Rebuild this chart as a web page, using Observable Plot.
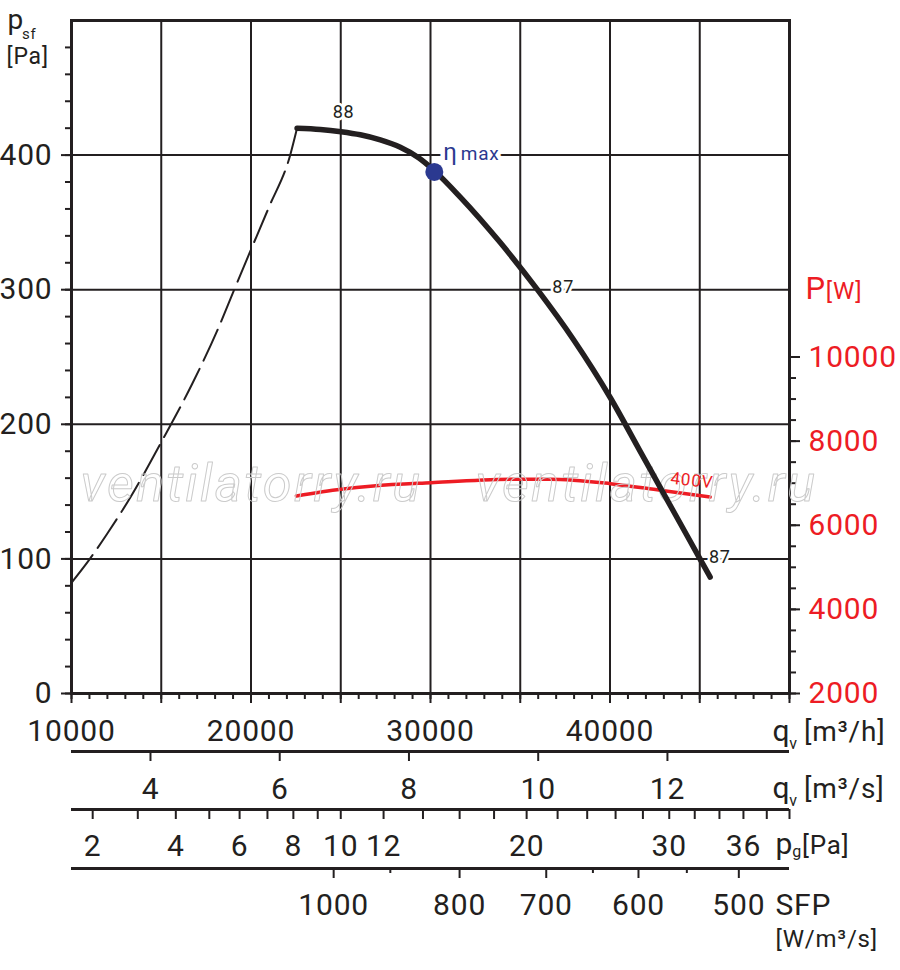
<!DOCTYPE html>
<html><head><meta charset="utf-8">
<script src="https://cdn.jsdelivr.net/npm/d3@7"></script>
<script src="https://cdn.jsdelivr.net/npm/@observablehq/plot@0.6"></script>
<style>
html,body{margin:0;padding:0;background:#fff;}
svg text{letter-spacing:0.8px;}
</style></head><body>
<div id="chart"></div>
<script>
// ---------- data ----------
// main fan curve: airflow q [m3/h] vs static pressure psf [Pa]
const qCurve   = [22567, 23864, 25017, 26091, 27205, 28318, 29337, 30212, 31659, 33886, 35947, 37951, 40011, 41682, 42795, 43909, 44927, 45579];
const psfCurve = [420.0, 419.1, 417.4, 415.1, 411.3, 405.8, 398.0, 388.4, 368.8, 335.0, 300.2, 263.2, 219.9, 179.9, 153.2, 126.5, 102.1, 86.5];
// unstable (dashed) region
const qStall   = [10030, 10963, 11988, 13285, 15050, 16720, 18112, 19037, 19967, 20986, 22194, 22567];
const psfStall = [82.8, 98.9, 118.7, 145.8, 187.9, 229.9, 269.4, 299.1, 328.8, 360.9, 400.5, 420.0];
// power input P [W] at 400 V
const qPower   = [22528, 25017, 26815, 30028, 35000, 36670, 40011, 42795, 45579];
const powerW   = [6697, 6856, 6935, 7013, 7094, 7094, 6989, 6833, 6673];
// max efficiency point
const etaMaxQ = 30212, etaMaxPsf = 387.5;
// efficiency labels on the curve
const effText = ["88", "87", "87"];
const effQ    = [25156, 37394, 46119];
const effPsf  = [427.6, 297.9, 97.2];
// 400V label
const voltText = "400V", voltQ = 44560, voltP = 7062;

// axes
const psfTicks    = [0, 100, 200, 300, 400];
const qTickLabels = [10000, 20000, 30000, 40000];
const powerTicks  = [2000, 4000, 6000, 8000, 10000];
const qsTicks     = [4, 6, 8, 10, 12];                       // m3/s
const pgTicks     = [2,3,4,5,6,7,8,9,10,12,14,16,18,20,22,24,26,28,30,32,34,36,38,40];
const pgLabels    = [2, 4, 6, 8, 10, 12, 20, 30, 36];
const sfpTicks    = [1000, 900, 800, 700, 650, 600, 550, 500];
const sfpTickQ    = [24605, 27762, 31620, 36448, 39048, 41587, 44281, 47177];
const sfpLabels   = [1000, 800, 700, 600, 500];

// ---------- helpers ----------
const P0 = 2000, W_PER_PA = 32;                 // right axis: P = P0 + psf*32
const pToY = P => (P - P0) / W_PER_PA;
const qFromPg = pg => 50000 * Math.sqrt(pg / 40); // dynamic pressure ~ q^2
const ink = "#231f20", red = "#ed1c24", blue = "#2b3990";
const FONT = "Roboto, 'Noto Sans', sans-serif";

const curve = qCurve.map((q, i) => ({q, psf: psfCurve[i]}));
const stall = qStall.map((q, i) => ({q, psf: psfStall[i]}));
const power = qPower.map((q, i) => ({q, P: powerW[i]}));
const eff = effText.map((t, i) => ({t, q: effQ[i], psf: effPsf[i]}));
const sfp = sfpTicks.map((s, i) => ({s, q: sfpTickQ[i]}));
const eta = [{q: etaMaxQ, psf: etaMaxPsf}];

// rich text (sub/superscript runs) -> rebuilt as tspans after rendering
// part = [text, fontSize, baselineOffset, dx]
const richMap = new Map();
function R(parts, opts) {
  const s = parts.map(p => p[0]).join("");
  richMap.set(s, parts);
  return Plot.text([s], {text: d => d, textAnchor: "start", lineAnchor: "bottom", fill: ink, fontSize: parts[0][1], ...opts});
}
const T = (str, frameAnchor, dx, dy, fontSize, extra = {}) =>
  Plot.text([str], {text: d => d, frameAnchor, dx, dy, fontSize, textAnchor: "start", lineAnchor: "bottom", fill: ink, ...extra});

const chart = Plot.plot({
  width: 900, height: 970,
  marginLeft: 71, marginRight: 111, marginTop: 20, marginBottom: 277,
  x: {type: "linear", domain: [10000, 50000], label: null},
  y: {type: "linear", domain: [0, 500], label: null},
  style: {fontFamily: FONT, color: ink, background: "#fff", overflow: "visible"},
  marks: [
    // grid + frame
    Plot.gridX({ticks: d3.range(15000, 50000, 5000), stroke: ink, strokeOpacity: 1, strokeWidth: 2}),
    Plot.gridY({ticks: psfTicks.filter(d => d > 0), stroke: ink, strokeOpacity: 1, strokeWidth: 2}),
    Plot.frame({stroke: ink, strokeWidth: 3}),

    // left axis
    Plot.axisY({ticks: d3.range(0, 481, 20), tickSize: 6, strokeWidth: 2, tickFormat: () => "", label: null}),
    Plot.axisY({ticks: psfTicks, tickSize: 10, tickPadding: 9, strokeWidth: 2, fontSize: 30, tickFormat: d => String(d), label: null}),

    // right axis (power)
    Plot.axisY({anchor: "right", ticks: d3.range(2000, 10001, 500).map(pToY), tickSize: 6, strokeWidth: 2, tickFormat: () => "", label: null}),
    Plot.axisY({anchor: "right", ticks: powerTicks.map(pToY), tickSize: 10, strokeWidth: 2, tickFormat: () => "", label: null}),
    Plot.axisY({anchor: "right", ticks: powerTicks.map(pToY), tickSize: 0, tickPadding: 19, fontSize: 30, color: red,
      tickFormat: y => String(Math.round(y * W_PER_PA + P0)), label: null}),

    // bottom axis q [m3/h]
    Plot.axisX({ticks: d3.range(10000, 50001, 1000), tickSize: 6, strokeWidth: 2, tickFormat: () => "", label: null}),
    Plot.axisX({ticks: d3.range(10000, 50001, 5000), tickSize: 10, strokeWidth: 2, tickFormat: () => "", label: null}),
    Plot.axisX({ticks: qTickLabels, tickSize: 0, tickPadding: 26, fontSize: 30, tickFormat: d => String(d), label: null}),

    // q [m3/s] axis
    Plot.ruleY([0], {dy: 58, stroke: ink, strokeWidth: 3}),
    Plot.ruleX(qsTicks, {x: d => d * 3600, y1: 0, y2: 0, insetBottom: -10, dy: 58, stroke: ink, strokeWidth: 2}),
    Plot.text(qsTicks, {x: d => d * 3600, text: d => String(d), frameAnchor: "bottom", dy: 105, lineAnchor: "bottom", fontSize: 30, fill: ink}),

    // pg [Pa] axis
    Plot.ruleY([0], {dy: 116, stroke: ink, strokeWidth: 3}),
    Plot.ruleX(pgTicks, {x: qFromPg, y1: 0, y2: 0, insetBottom: -10, dy: 116, stroke: ink, strokeWidth: 2}),
    Plot.text(pgLabels, {x: qFromPg, text: d => String(d), frameAnchor: "bottom", dy: 162.5, lineAnchor: "bottom", fontSize: 30, fill: ink}),

    // SFP axis
    Plot.ruleY([0], {dy: 175, stroke: ink, strokeWidth: 3}),
    Plot.ruleX(sfp.filter(d => sfpLabels.includes(d.s)), {x: "q", y1: 0, y2: 0, insetBottom: -10, dy: 175, stroke: ink, strokeWidth: 2}),
    Plot.ruleX(sfp.filter(d => !sfpLabels.includes(d.s)), {x: "q", y1: 0, y2: 0, insetBottom: -5, dy: 175, stroke: ink, strokeWidth: 2}),
    Plot.text(sfp.filter(d => sfpLabels.includes(d.s)), {x: "q", text: d => String(d.s), frameAnchor: "bottom", dy: 221, lineAnchor: "bottom", fontSize: 30, fill: ink}),

    // axis titles
    R([["p", 28], ["sf", 15, 9.5, -2]], {frameAnchor: "top-left", dx: -64, dy: 8.5}),
    T("[Pa]", "top-left", -65, 43, 23),
    R([["P", 31], ["[W]", 24, 0, 0]], {frameAnchor: "top-right", dx: 16, dy: 278, fill: red}),
    R([["q", 30], ["v", 16, 8, -1], ["[m³/h]", 28, 0, 6]], {frameAnchor: "bottom-right", dx: -17, dy: 47}),
    R([["q", 30], ["v", 16, 8, -1], ["[m³/s]", 28, 0, 6]], {frameAnchor: "bottom-right", dx: -17, dy: 104}),
    R([["p", 30], ["g", 16, 3, -1], ["[Pa]", 26, 0, 0]], {frameAnchor: "bottom-right", dx: -14, dy: 160.5}),
    T("SFP", "bottom-right", -14, 221, 30),
    T("[W/m³/s]", "bottom-right", -14, 253.5, 24),

    // curves
    Plot.line(stall, {x: "q", y: "psf", stroke: ink, strokeWidth: 2, strokeDasharray: "34,9", curve: "monotone-x"}),
    Plot.line(power, {x: "q", y: d => pToY(d.P), stroke: red, strokeWidth: 3.5, curve: "monotone-x"}),

    // watermark
    T("ventilatorry.ru", "top-left", 9, 480, 52, {fill: "none", stroke: "#cbcbcb", strokeWidth: 1, fontStyle: "italic"}),
    T("ventilatorry.ru", "top-left", 404, 480, 52, {fill: "none", stroke: "#cbcbcb", strokeWidth: 1, fontStyle: "italic"}),

    // labels with halo
    Plot.text(eff, {x: "q", y: "psf", text: "t", fontSize: 18, lineAnchor: "bottom", fill: ink, stroke: "white", strokeWidth: 5}),
    Plot.text([{t: voltText, q: voltQ, P: voltP}], {x: "q", y: d => pToY(d.P), text: "t", rotate: 6, fontSize: 17, fill: red}),

    // main curve
    Plot.line(curve, {x: "q", y: "psf", stroke: ink, strokeWidth: 5.5, strokeLinecap: "round", curve: "monotone-x"}),

    // eta max
    R([["η", 24], ["max", 19, 0, 3]], {data: eta, x: etaMaxQ, y: etaMaxPsf, dx: 9, dy: -11.5, fill: blue, stroke: "white", strokeWidth: 9}),
    Plot.dot(eta, {x: "q", y: "psf", r: 9, fill: blue})
  ]
});

// rebuild rich texts with tspans
d3.select(chart).selectAll("text").each(function () {
  const parts = richMap.get(this.textContent);
  if (parts) {
    const el = d3.select(this);
    el.text("");
    let shift = 0;
    for (const [t, size, off = 0, dx = 0] of parts) {
      el.append("tspan").attr("font-size", size).attr("dy", off - shift).attr("dx", dx).text(t);
      shift = off;
    }
  } else if (this.textContent === "ventilatorry.ru") {
    this.style.letterSpacing = "2.4px";
  }
});
document.getElementById("chart").appendChild(chart);
</script>
</body></html>
